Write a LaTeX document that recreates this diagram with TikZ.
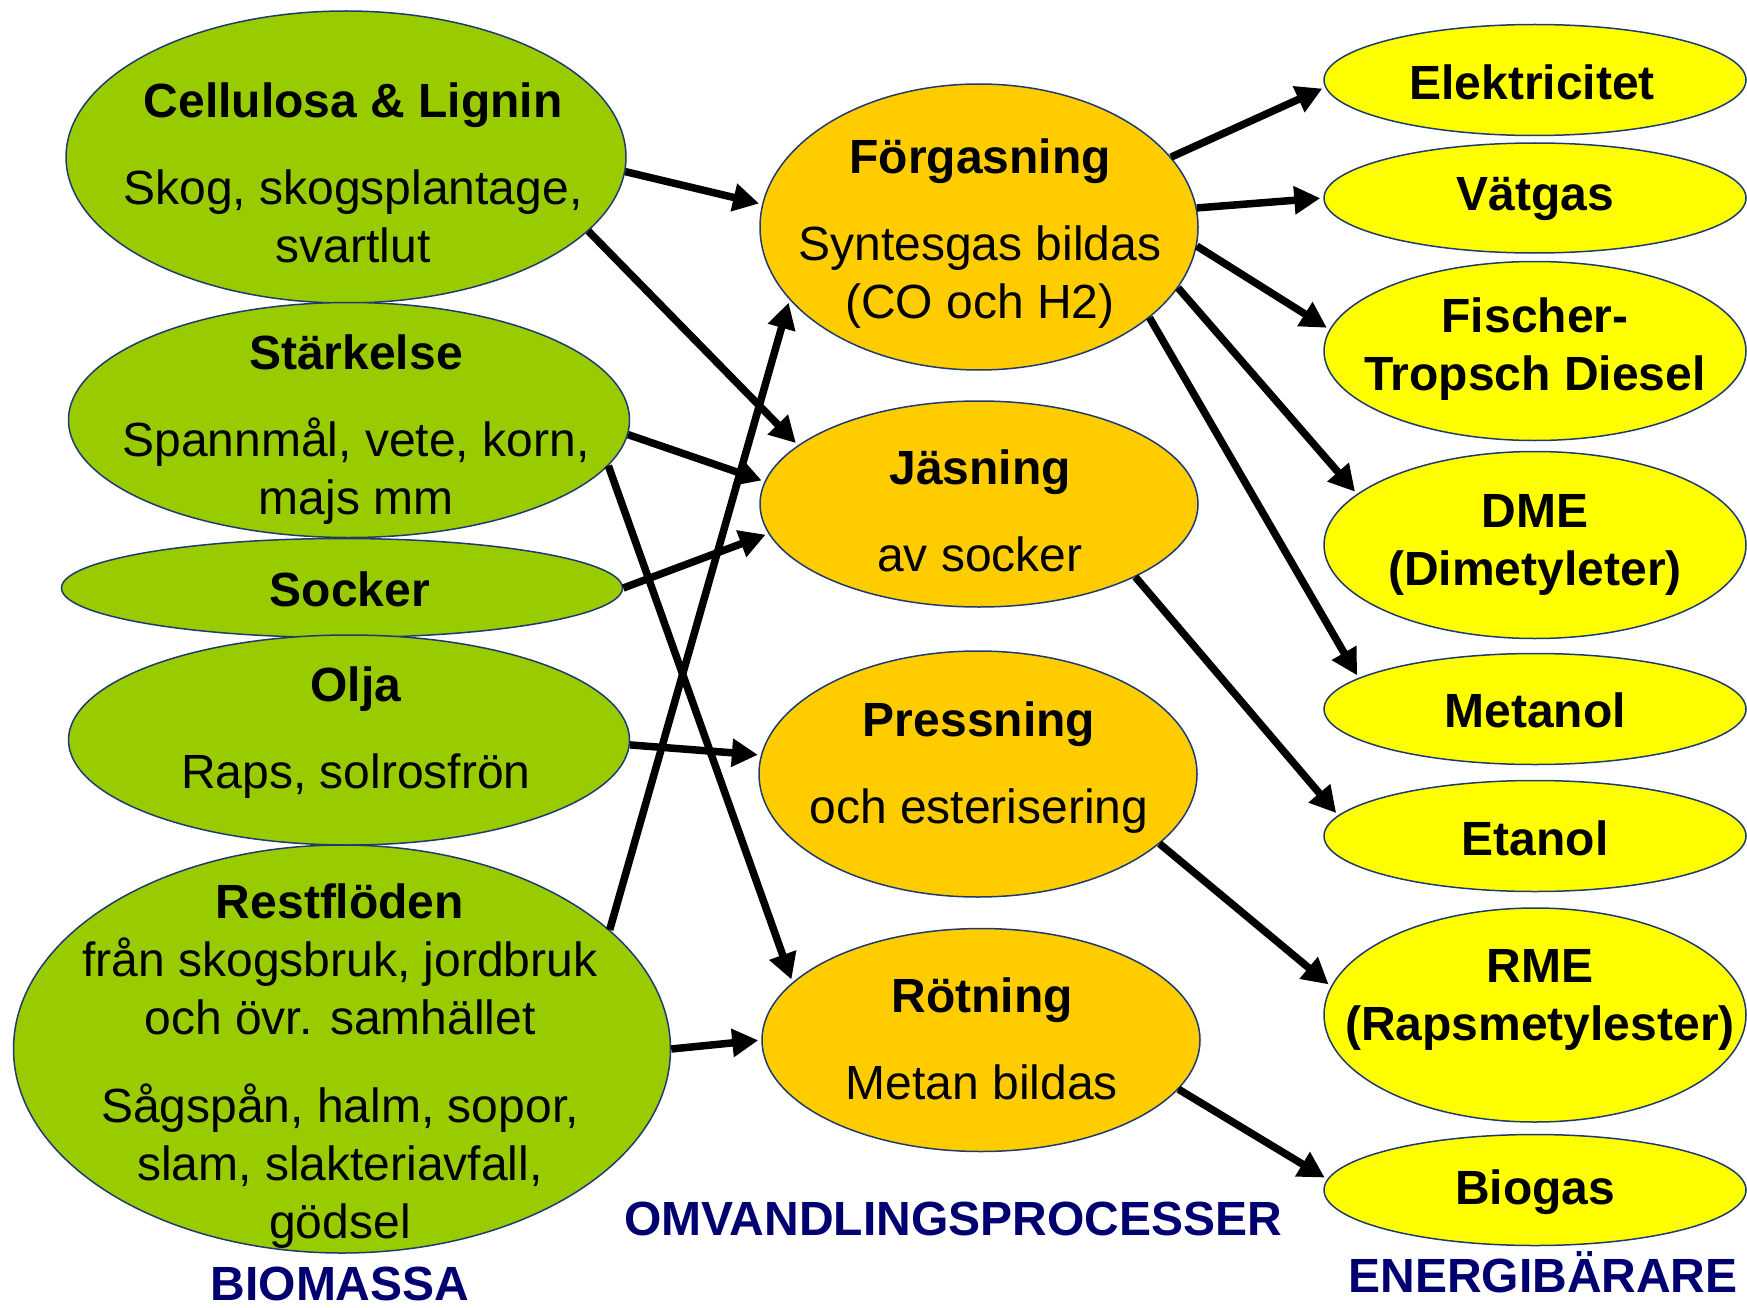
\documentclass[tikz,border=0pt]{standalone}
\usepackage{fontspec}
\setmainfont{Liberation Sans}
\usetikzlibrary{shapes.geometric,arrows.meta}
\definecolor{biogreen}{HTML}{99CC00}
\definecolor{procorange}{HTML}{FFCC00}
\definecolor{carrieryellow}{HTML}{FFFF00}
\definecolor{rimblue}{HTML}{1F3A70}
\definecolor{headblue}{HTML}{000070}
\begin{document}
\begin{tikzpicture}[x=1pt, y=-1pt, line join=miter, >={Triangle[length=26pt,width=27pt]},
	font=\fontsize{48}{58}\selectfont,
	ell/.style={ellipse, draw=rimblue, line width=1.5pt, inner sep=0pt},
	bio/.style={ell, fill=biogreen},
	proc/.style={ell, fill=procorange},
	carrier/.style={ell, fill=carrieryellow, minimum width=422pt},
	txt/.style={align=center, inner sep=0pt},
	btxt/.style={txt, font=\fontsize{48}{58}\selectfont\bfseries},
	head/.style={inner sep=0pt, font=\fontsize{48}{58}\selectfont\bfseries, text=headblue},
	flow/.style={->, line width=7.5pt, shorten >=3pt}]
	\useasboundingbox (0,0) rectangle (1747,1308);
	%
	% biomassa
	\node [bio, minimum width=560pt, minimum height=292pt] (cell) at (346,157) {};
	\node [bio, minimum width=561pt, minimum height=235pt] (stark) at (349,420) {};
	\node [bio, minimum width=561pt, minimum height=99pt] (sock) at (342,588) {};
	\node [bio, minimum width=561pt, minimum height=210pt] (olja) at (349,740) {};
	\node [bio, minimum width=657pt, minimum height=408pt] (rest) at (342,1049) {};
	\node [txt] (cellT) at (353,173) {\textbf{Cellulosa \& Lignin}\\[29pt] Skog, skogsplantage,\\ svartlut};
	\node [txt] (starkT) at (356,430) {\textbf{Stärkelse}\\[29pt] Spannmål, vete, korn,\\ majs mm};
	\node [txt] (sockT) at (350,589) {\textbf{Socker}};
	\node [txt] (oljaT) at (356,733) {\textbf{Olja}\\[29pt] Raps, solrosfrön};
	\node [txt] (restT) at (340,1066) {\textbf{Restflöden}\\ från skogsbruk, jordbruk\\ och övr. samhället\\[30pt]
		Sågspån, halm, sopor,\\ slam, slakteriavfall,\\ gödsel};
	%
	% omvandling
	\node [proc, minimum width=438pt, minimum height=286pt] (forg) at (979,227) {};
	\node [proc, minimum width=438pt, minimum height=206pt] (jas) at (979,504) {};
	\node [proc, minimum width=438pt, minimum height=246pt] (press) at (978,774) {};
	\node [proc, minimum width=438pt, minimum height=223pt] (rot) at (981,1040) {};
	\node [txt] (forgT) at (980,234) {\textbf{Förgasning}\\[29pt] Syntesgas bildas\\ (CO och H2)};
	\node [txt] (jasT) at (980,511) {\textbf{Jäsning}\\[29pt] av socker};
	\node [txt] (pressT) at (979,768) {\textbf{Pressning}\\[29pt] och esterisering};
	\node [txt] (rotT) at (982,1039) {\textbf{Rötning}\\[29pt] Metan bildas};
	%
	% energibärare
	\node [carrier, minimum height=111pt] (elek) at (1535,80) {};
	\node [carrier, minimum height=110pt] (vat) at (1535,198) {};
	\node [carrier, minimum height=179pt] (fisch) at (1535,351) {};
	\node [carrier, minimum height=187pt] (dme) at (1535,545) {};
	\node [carrier, minimum height=111pt] (meta) at (1535,709) {};
	\node [carrier, minimum height=111pt] (etan) at (1535,836) {};
	\node [carrier, minimum height=214pt] (rme) at (1535,1015) {};
	\node [carrier, minimum height=111pt] (biog) at (1535,1190) {};
	\node [btxt] (elekT) at (1532,82) {Elektricitet};
	\node [btxt] (vatT) at (1535,199) {Vätgas};
	\node [btxt] (fischT) at (1535,349) {Fischer-\\ Tropsch Diesel};
	\node [btxt] (dmeT) at (1535,545) {DME\\ (Dimetyleter)};
	\node [btxt] (metaT) at (1535,710) {Metanol};
	\node [btxt] (etanT) at (1535,838) {Etanol};
	\node [btxt] (rmeT) at (1540,1000) {RME\\ (Rapsmetylester)};
	\node [btxt] (biogT) at (1535,1192) {Biogas};
	%
	\node [head] (biomassa) at (340,1284) {BIOMASSA};
	\node [head] (omv) at (953,1219) {OMVANDLINGSPROCESSER};
	\node [head] (energi) at (1543,1272) {ENERGIBÄRARE};
	%
	% flöden
	\draw [flow] (cell.-3.5) -- (forg.174);
	\draw [flow] (cell.-17.4) -- (jas.162);
	\draw [flow] (stark.-3.1) -- (jas.174);
	\draw [flow] (stark.-10) -- (rot.163.5);
	\draw [flow] (sock.0.4) -- (jas.188);
	\draw [flow] (olja.-1.4) -- (press.175);
	\draw [flow] (rest.24.7) -- (forg.201);
	\draw [flow] (rest.0.9) -- (rot.180);
	\draw [flow] (forg.20) -- (elek.182);
	\draw [flow] (forg.5.3) -- (vat.180);
	\draw [flow] (forg.-5.5) -- (fisch.174);
	\draw [flow] (forg.-17.7) -- (dme.164);
	\draw [flow] (forg.-28.7) -- (meta.170);
	\draw [flow] (jas.-25.8) -- (etan.174.5);
	\draw [flow] (press.-21.4) -- (rme.172);
	\draw [flow] (rot.-14) -- (biog.177);
\end{tikzpicture}
\end{document}
